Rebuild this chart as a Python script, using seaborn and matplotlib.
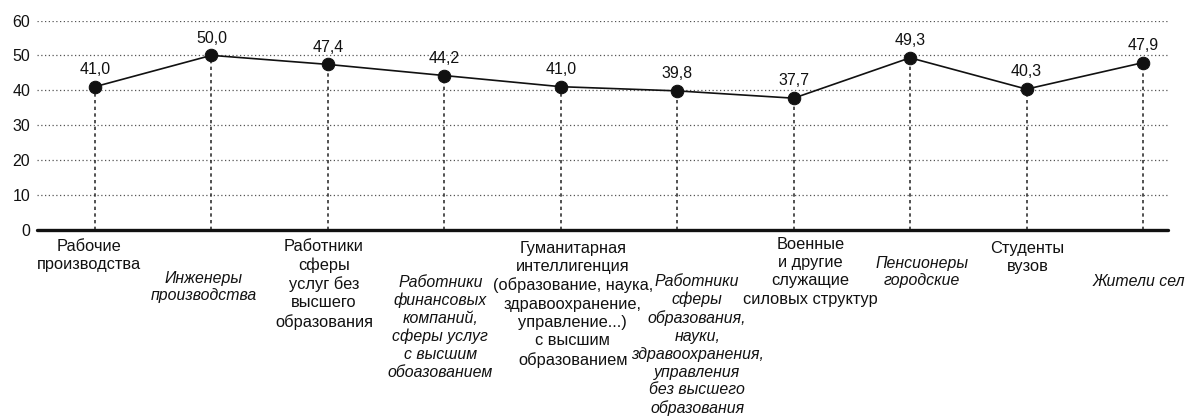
import matplotlib
matplotlib.use("Agg")
import matplotlib.pyplot as plt
import matplotlib.transforms as mtransforms
import numpy as np
import pandas as pd
import seaborn as sns

# data
groups = [
    "Рабочие\nпроизводства",
    "Инженеры\nпроизводства",
    "Работники\nсферы\nуслуг без\nвысшего\nобразования",
    "Работники\nфинансовых\nкомпаний,\nсферы услуг\nс высшим\nобоазованием",
    "Гуманитарная\nинтеллигенция\n(образование, наука,\nздравоохранение,\nуправление...)\nс высшим\nобразованием",
    "Работники\nсферы\nобразования,\nнауки,\nздравоохранения,\nуправления\nбез высшего\nобразования",
    "Военные\nи другие\nслужащие\nсиловых структур",
    "Пенсионеры\nгородские",
    "Студенты\nвузов",
    "Жители сел",
]
italic = [False, True, False, True, False, True, False, True, False, True]
values = [41.0, 50.0, 47.4, 44.2, 41.0, 39.8, 37.7, 49.3, 40.3, 47.9]

# label placement tweaks (pixels)
label_dy = [9, 41, 9, 45, 11, 44, 7, 26, 11, 44]
label_dx = [-6, -8, -4, -4, 12, 20, 17, 12, 1, -4]

df = pd.DataFrame({"pos": np.arange(len(values)), "value": values})

sns.set_style("white")
plt.rcParams["font.family"] = ["Liberation Sans", "DejaVu Sans"]

fig = plt.figure(figsize=(11.87, 4.16), dpi=100)
ax = fig.add_axes([0.0312, 0.4483, 0.9528, 0.5024])

# grid
for yv in range(10, 61, 10):
    ax.axhline(yv, color="#555555", lw=0.9, ls=(0, (1, 2)), zorder=0)
ax.vlines(df["pos"], 0, df["value"], color="#333333", lw=1.2, ls=(0, (2, 2)), zorder=1)

sns.lineplot(data=df, x="pos", y="value", color="#111111", lw=1.2,
             marker="o", markersize=9, markeredgecolor="#111111", ax=ax, zorder=3)

ax.axhline(0, color="#111111", lw=2.4, zorder=4, clip_on=False)

ax.set_xlim(-0.498, 9.215)
ax.set_ylim(0, 60)
ax.set_yticks(range(0, 61, 10))
ax.set_xticks([])
ax.set_xlabel("")
ax.set_ylabel("")
for s in ax.spines.values():
    s.set_visible(False)
ax.tick_params(axis="y", length=0, pad=5, labelsize=11.5, labelcolor="#111111")

# value labels
for x, v in zip(df["pos"], df["value"]):
    ax.annotate(f"{v:.1f}".replace(".", ","), (x, v), xytext=(0, 7),
                textcoords="offset points", ha="center", va="bottom",
                fontsize=11.5, color="#111111")

# category labels
px = 72 / fig.dpi
tr = mtransforms.blended_transform_factory(ax.transData, ax.transAxes)
for i, (g, it) in enumerate(zip(groups, italic)):
    ax.annotate(g, (i, 0), xycoords=tr,
                xytext=(label_dx[i] * px, -label_dy[i] * px), textcoords="offset points",
                ha="center", va="top", multialignment="center",
                fontsize=11.4 if it else 11.8, style="italic" if it else "normal",
                linespacing=1.24 if it else 1.28, color="#111111")

fig.savefig("out.png", dpi=100)
